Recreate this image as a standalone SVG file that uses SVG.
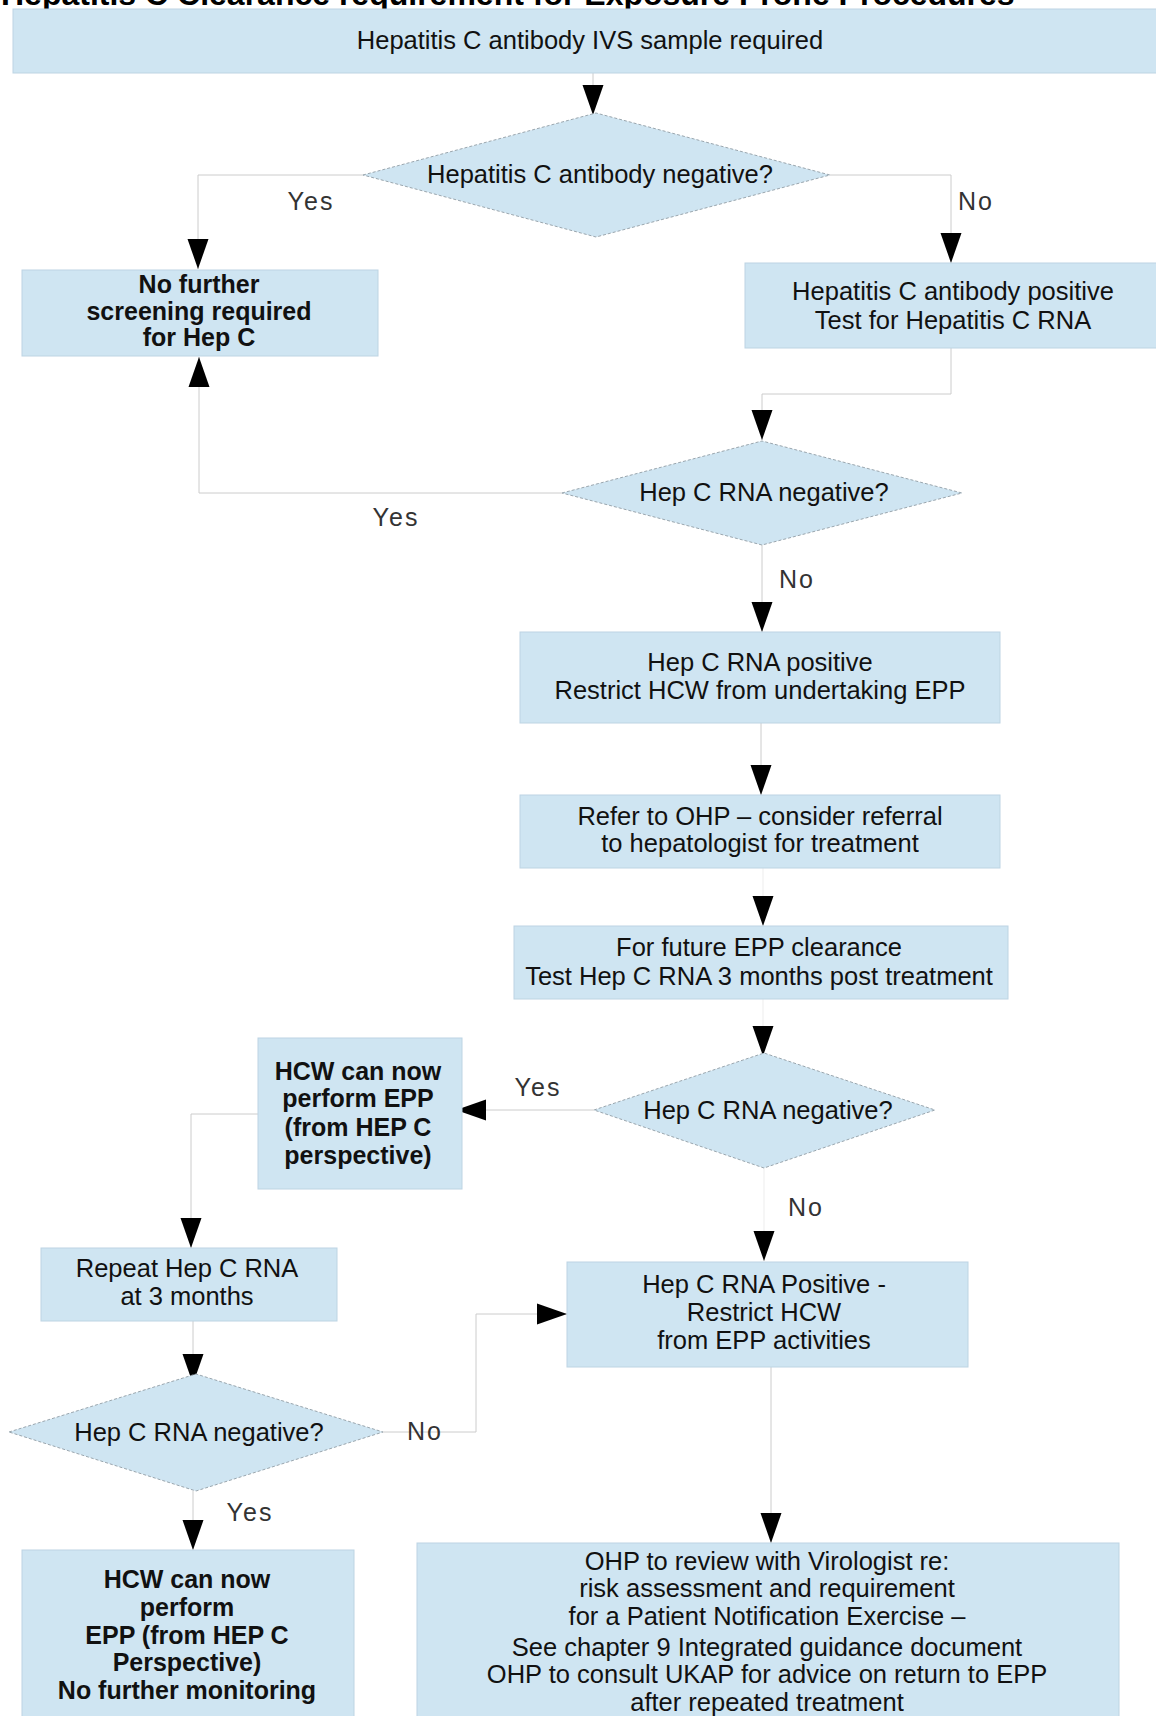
<svg xmlns="http://www.w3.org/2000/svg" width="1156" height="1716" viewBox="0 0 1156 1716">
<defs>
<marker id="ah" markerUnits="userSpaceOnUse" markerWidth="31" markerHeight="22" refX="30" refY="10.5" orient="auto" overflow="visible">
<path d="M0,0 L30,10.5 L0,21 Z" fill="#000"/>
</marker>
</defs>
<style>
.box{fill:#cfe5f2;stroke:#bdd4e3;stroke-width:1}
.dia{fill:#cfe5f2;stroke:#9aa6ae;stroke-width:1;stroke-dasharray:3 2}
.t{font-family:"Liberation Sans",Arial,sans-serif;font-size:25.5px;fill:#111;text-anchor:middle}
.b{font-weight:bold;font-size:25px}
.lbl{font-family:"Liberation Sans",Arial,sans-serif;font-size:25px;letter-spacing:2px;fill:#333;text-anchor:middle}
.c{fill:none;stroke:#cccccc;stroke-width:1;marker-end:url(#ah)}
.f{stroke:#ededed}
.title{font-family:"Liberation Sans",Arial,sans-serif;font-size:32px;font-weight:bold;fill:#000}
</style>
<rect width="1156" height="1716" fill="#fff"/>
<g id="title"><text class="title" x="1" y="5">Hepatitis C Clearance requirement for Exposure Prone Procedures</text></g>

<g id="connectors">
<path class="c" d="M593,73 V115"/>
<path class="c" d="M363,175 H198 V269"/>
<path class="c" d="M830,175 H951 V263"/>
<path class="c" d="M951,348 V394 H762 V440"/>
<path class="c" d="M562,493 H199 V357"/>
<path class="c" d="M762,545 V632"/>
<path class="c" d="M761,723 V795"/>
<path class="c f" d="M763,868 V926"/>
<path class="c f" d="M763,999 V1056"/>
<path class="c" d="M594,1110 H456"/>
<path class="c" d="M258,1114 H191 V1248"/>
<path class="c" d="M193,1321 V1384"/>
<path class="c" d="M383,1432 H476 V1314 H567"/>
<path class="c" d="M193,1491 V1550"/>
<path class="c" d="M771,1367 V1543"/>
<path class="c f" d="M764,1168 V1261"/>
</g>

<g id="n1"><rect class="box" x="13" y="9" width="1150" height="64"/>
<text class="t" x="590" y="49">Hepatitis C antibody IVS sample required</text></g>

<g id="n2"><polygon class="dia" points="363,175 596,113 830,175 596,237"/>
<text class="t" x="600" y="183">Hepatitis C antibody negative?</text></g>

<g id="n3"><rect class="box" x="22" y="270" width="356" height="86"/>
<text class="t b" x="199" y="293">No further</text>
<text class="t b" x="199" y="320">screening required</text>
<text class="t b" x="199" y="346">for Hep C</text></g>

<g id="n4"><rect class="box" x="745" y="263" width="420" height="85"/>
<text class="t" x="953" y="300">Hepatitis C antibody positive</text>
<text class="t" x="953" y="329">Test for Hepatitis C RNA</text></g>

<g id="n5"><polygon class="dia" points="562,493 762,441 962,493 762,545"/>
<text class="t" x="764" y="501">Hep C RNA negative?</text></g>

<g id="n6"><rect class="box" x="520" y="632" width="480" height="91"/>
<text class="t" x="760" y="671">Hep C RNA positive</text>
<text class="t" x="760" y="699">Restrict HCW from undertaking EPP</text></g>

<g id="n7"><rect class="box" x="520" y="795" width="480" height="73"/>
<text class="t" x="760" y="825">Refer to OHP – consider referral</text>
<text class="t" x="760" y="852">to hepatologist for treatment</text></g>

<g id="n8"><rect class="box" x="514" y="926" width="494" height="73"/>
<text class="t" x="759" y="956">For future EPP clearance</text>
<text class="t" x="759" y="985">Test Hep C RNA 3 months post treatment</text></g>

<g id="n9"><polygon class="dia" points="594,1110 764,1053 935,1110 764,1168"/>
<text class="t" x="768" y="1119">Hep C RNA negative?</text></g>

<g id="n10"><rect class="box" x="258" y="1038" width="204" height="151"/>
<text class="t b" x="358" y="1080">HCW can now</text>
<text class="t b" x="358" y="1107">perform EPP</text>
<text class="t b" x="358" y="1136">(from HEP C</text>
<text class="t b" x="358" y="1164">perspective)</text></g>

<g id="n11"><rect class="box" x="41" y="1248" width="296" height="73"/>
<text class="t" x="187" y="1277">Repeat Hep C RNA</text>
<text class="t" x="187" y="1305">at 3 months</text></g>

<g id="n12"><polygon class="dia" points="9,1432 196,1374 383,1432 196,1491"/>
<text class="t" x="199" y="1441">Hep C RNA negative?</text></g>

<g id="n13"><rect class="box" x="567" y="1262" width="401" height="105"/>
<text class="t" x="764" y="1293">Hep C RNA Positive -</text>
<text class="t" x="764" y="1321">Restrict HCW</text>
<text class="t" x="764" y="1349">from EPP activities</text></g>

<g id="n14"><rect class="box" x="22" y="1550" width="332" height="180"/>
<text class="t b" x="187" y="1588">HCW can now</text>
<text class="t b" x="187" y="1616">perform</text>
<text class="t b" x="187" y="1644">EPP (from HEP C</text>
<text class="t b" x="187" y="1671">Perspective)</text>
<text class="t b" x="187" y="1699">No further monitoring</text></g>

<g id="n15"><rect class="box" x="417" y="1543" width="702" height="190"/>
<text class="t" x="767" y="1570">OHP to review with Virologist re:</text>
<text class="t" x="767" y="1597">risk assessment and requirement</text>
<text class="t" x="767" y="1625">for a Patient Notification Exercise –</text>
<text class="t" x="767" y="1656">See chapter 9 Integrated guidance document</text>
<text class="t" x="767" y="1683">OHP to consult UKAP for advice on return to EPP</text>
<text class="t" x="767" y="1711">after repeated treatment</text></g>

<g id="labels">
<text class="lbl" x="311" y="210">Yes</text>
<text class="lbl" x="976" y="210">No</text>
<text class="lbl" x="396" y="526">Yes</text>
<text class="lbl" x="797" y="588">No</text>
<text class="lbl" x="538" y="1096">Yes</text>
<text class="lbl" x="806" y="1216">No</text>
<text class="lbl" x="425" y="1440">No</text>
<text class="lbl" x="250" y="1521">Yes</text>
</g>
</svg>
